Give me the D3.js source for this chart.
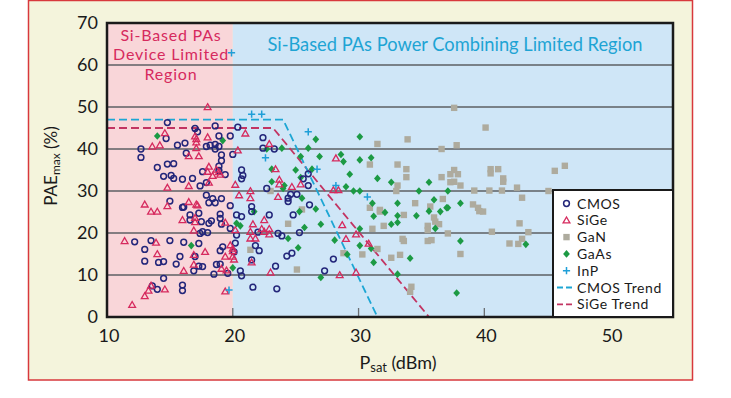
<!DOCTYPE html>
<html>
<head>
<meta charset="utf-8">
<script src="https://cdn.jsdelivr.net/npm/d3@7"></script>
<style>
  body { margin: 0; background: #fff; }
  svg { display: block; font-family: Lato, "Open Sans", sans-serif; }
</style>
</head>
<body>
<svg id="chart" width="731" height="398"></svg>
<script>
// Psat (dBm), PAEmax (%)
const cmos = [
  [14.8,46.3],[17.0,44.9],[17.2,44.1],[18.6,45.5],[20.4,45.2],[14.7,42.5],[18.9,43.1],[19.8,43.1],
  [12.7,40.0],[12.7,38.0],[15.6,40.9],[16.2,41.4],[17.9,40.6],[18.2,40.9],[18.6,41.1],[18.9,40.6],
  [18.6,40.0],[16.3,39.0],[19.1,38.6],[20.0,38.7],[19.1,37.2],[18.9,35.9],[18.9,34.9],[14.0,35.6],
  [14.8,36.4],[15.3,36.5],[17.6,34.6],[14.5,33.5],[15.1,33.7],[15.3,33.0],[16.0,32.8],[16.8,33.0],
  [17.9,32.0],[19.4,33.9],[17.4,31.2],[17.9,29.0],[18.4,28.2],[18.1,27.2],[18.6,27.2],[19.1,28.2],
  [15.0,27.6],[16.1,26.2],[19.8,26.5],[16.0,26.1],[16.6,24.3],[16.6,23.1],[17.3,24.7],[17.5,22.7],
  [17.4,19.9],[17.6,20.3],[18.0,20.1],[18.1,22.3],[18.3,22.9],[19.0,24.5],[19.0,23.5],[19.1,22.1],
  [19.8,21.1],[20.3,19.5],[20.3,24.3],[20.7,23.9],[21.5,26.3],[21.5,25.1],[22.0,20.2],[22.9,24.3],
  [23.6,19.9],[23.9,19.3],[24.4,27.5],[24.8,24.3],[25.3,20.1],[26.1,26.7],[24.3,14.5],[24.7,15.2],
  [23.4,12.1],[21.6,7.1],[23.5,6.7],[22.1,15.8],[21.8,17.0],[21.5,13.6],[20.2,17.6],[20.1,15.5],
  [19.2,16.7],[19.0,15.8],[18.7,12.5],[19.0,12.6],[18.5,10.2],[19.6,10.4],[20.6,11.0],[20.7,9.8],
  [16.9,11.0],[17.3,12.1],[17.6,12.0],[17.0,14.4],[17.3,17.5],[16.1,17.8],[15.8,14.4],[15.5,12.6],
  [15.0,18.2],[14.5,13.2],[14.1,13.0],[13.0,13.3],[13.5,18.2],[13.0,16.1],[12.2,17.9],[14.5,9.2],
  [13.6,7.4],[14.0,6.6],[16.0,7.6],[16.0,6.3],[22.4,42.7],[22.4,40.2],[23.3,40.0],[20.7,35.0],
  [20.8,33.7],[20.7,32.9],[22.7,30.6],[25.6,32.9],[26.0,34.1],[26.0,31.3],[24.4,28.3],[24.6,29.2],
  [25.1,29.2],[28.0,13.8],[27.3,11.0]
];
const sige = [
  [18.0,50.0],[14.6,43.8],[13.6,40.6],[14.2,40.9],[17.0,43.0],[17.1,42.4],[18.0,42.8],[17.1,41.6],
  [17.1,40.2],[16.5,38.3],[17.3,38.3],[20.4,39.7],[18.1,35.8],[18.0,34.6],[18.7,35.1],[18.4,33.6],
  [19.0,33.9],[18.9,34.5],[16.5,31.2],[18.1,32.0],[20.2,31.5],[14.8,30.8],[20.5,29.0],[13.0,26.8],
  [14.8,26.4],[16.5,27.4],[17.1,26.8],[17.2,26.6],[13.5,25.1],[14.0,25.1],[16.0,23.1],[17.0,23.6],
  [17.0,22.6],[16.9,20.6],[19.4,22.5],[11.4,18.1],[13.9,17.7],[14.0,15.0],[16.9,14.8],[17.8,15.5],
  [20.0,15.7],[19.4,14.4],[20.1,13.7],[16.9,12.5],[16.1,11.0],[19.1,11.5],[19.5,11.1],[13.5,7.5],
  [14.6,6.6],[13.3,6.3],[13.0,5.0],[12.0,2.9],[19.4,6.1],[21.0,43.7],[22.9,41.2],[23.4,35.2],
  [28.2,37.8],[21.4,30.0],[21.4,28.3],[23.7,32.7],[23.7,31.6],[23.6,28.6],[24.7,31.0],[25.4,31.6],
  [28.0,30.2],[28.4,30.2],[21.6,22.1],[22.5,23.1],[20.2,20.7],[21.4,20.3],[21.4,18.7],[21.8,18.7],
  [22.3,21.0],[22.5,20.3],[22.9,21.0],[22.9,19.7],[19.8,17.1],[20.0,16.3],[20.0,14.4],[21.5,13.0],
  [23.0,10.6],[28.7,21.9],[29.0,18.6],[29.8,19.7],[28.5,10.0],[29.8,10.6],[30.8,17.5]
];
const gan = [
  [23.0,30.0],[25.5,25.6],[24.4,22.2],[21.4,16.0],[25.1,11.3],[28.8,15.2],[30.3,14.9],
  [37.6,49.8],[40.1,45.1],[33.9,42.3],[31.5,41.2],[36.6,40.0],[37.8,40.9],[30.9,36.3],[33.1,36.3],
  [33.8,35.2],[33.8,33.3],[37.6,35.0],[37.3,34.0],[37.9,34.0],[36.6,33.3],[40.5,35.2],[40.5,34.2],
  [41.1,35.2],[37.3,32.1],[37.6,32.2],[38.1,31.3],[33.1,31.3],[33.0,30.0],[39.2,30.1],[40.4,30.1],
  [41.4,30.1],[34.5,27.1],[35.7,26.3],[36.7,28.1],[39.1,26.8],[39.5,26.0],[30.9,26.0],[31.7,25.5],
  [41.5,33.0],[41.5,32.2],[42.6,30.8],[43.0,28.4],[45.1,30.0],[45.6,34.8],[46.4,36.0],[42.8,22.3],
  [43.5,20.2],[40.6,20.3],[43.0,18.6],[42.0,17.5],[42.7,17.4],[31.7,25.1],[33.6,24.3],[31.1,21.0],
  [32.0,21.7],[35.5,21.7],[35.5,20.7],[36.0,23.7],[36.1,22.7],[36.4,22.1],[37.1,19.9],[33.5,18.6],
  [33.6,18.1],[35.5,18.1],[35.8,18.3],[31.5,16.2],[32.6,14.1],[33.3,14.8],[38.1,15.0],[34.2,7.2],
  [34.1,6.0],[39.6,25.2],[39.9,25.1]
];
const gaas = [
  [14.0,43.1],[19.2,42.0],[16.7,17.0],[20.3,22.3],[20.6,21.7],[21.7,25.1],[25.3,25.1],[26.6,25.7],
  [24.4,18.7],[25.7,21.3],[27.0,22.1],[25.2,16.5],[28.1,18.3],[29.1,14.9],[30.1,21.0],[30.1,17.0],
  [20.0,11.7],[27.0,9.4],[26.6,42.3],[30.1,42.9],[26.0,40.2],[26.9,38.2],[28.6,38.7],[28.8,37.0],
  [30.1,37.4],[25.4,38.2],[22.7,40.0],[23.9,40.2],[25.0,35.0],[29.3,34.0],[26.3,35.2],[25.4,33.2],
  [23.1,35.2],[23.1,32.2],[24.1,31.3],[24.0,30.6],[29.0,31.0],[29.6,30.0],[30.1,30.0],[25.5,28.3],
  [31.0,37.9],[31.5,33.0],[32.6,32.1],[35.6,32.1],[34.8,30.0],[37.1,30.0],[31.1,27.1],[33.1,27.1],
  [36.0,27.9],[37.1,26.0],[38.1,27.1],[31.2,24.0],[32.1,24.9],[32.6,22.1],[33.1,22.5],[33.1,24.1],
  [34.6,24.1],[35.6,25.2],[36.5,25.1],[37.0,26.0],[36.1,21.1],[31.0,16.3],[31.2,13.0],[34.1,14.0],
  [33.1,10.2],[38.1,18.1],[37.8,5.7],[43.3,17.3]
];
const inp = [
  [19.9,62.9],[21.5,48.3],[22.3,48.3],[26.0,44.1],[22.6,37.9],[26.7,35.2],[28.2,31.3],[30.7,28.6],[19.7,6.4]
];
const cmosTrend = [[10,47],[24,47],[31.5,0]];
const sigeTrend = [[10,45],[23.2,45],[35.6,0]];
const xTicks = [10, 20, 30, 40, 50];
const yTicks = [0, 10, 20, 30, 40, 50, 60, 70];
const legendItems = ["CMOS", "SiGe", "GaN", "GaAs", "InP", "CMOS Trend", "SiGe Trend"];

const svg = d3.select("#chart");
const x = d3.scaleLinear().domain([10, 55]).range([107, 673]);
const y = d3.scaleLinear().domain([0, 70]).range([317, 23]);

const colors = {
  cmos: "#23267a",
  sige: "#d62a5e",
  gan: "#aeab9e",
  gaas: "#1c9a44",
  inp: "#1f9fd8",
  cmosTrend: "#1da6d4",
  sigeTrend: "#c23462"
};

// outer panel
svg.append("rect")
  .attr("x", 28.5).attr("y", 0.5).attr("width", 664).attr("height", 379.5)
  .attr("fill", "#f4f4dc").attr("stroke", "#d8383c").attr("stroke-width", 1.5);

// region backgrounds
svg.append("rect")
  .attr("x", x(10)).attr("y", y(70)).attr("width", x(20) - x(10)).attr("height", y(0) - y(70))
  .attr("fill", "#f9d6d9");
svg.append("rect")
  .attr("x", x(20)).attr("y", y(70)).attr("width", x(55) - x(20)).attr("height", y(0) - y(70))
  .attr("fill", "#cfe6f7");

// grid lines
svg.append("g")
  .selectAll("line")
  .data(yTicks.filter(d => d > 0 && d < 70))
  .enter()
  .append("line")
  .attr("x1", x(10)).attr("x2", x(55))
  .attr("y1", d => y(d)).attr("y2", d => y(d))
  .attr("stroke", "#5c5f63").attr("stroke-width", 1.3);

// small ticks inside bottom
svg.append("g")
  .selectAll("line")
  .data(xTicks.filter(d => d > 10))
  .enter()
  .append("line")
  .attr("x1", d => x(d)).attr("x2", d => x(d))
  .attr("y1", y(0)).attr("y2", y(0) - 9)
  .attr("stroke", "#6b6e72").attr("stroke-width", 1.3);

// region labels
const redLines = ["Si-Based PAs", "Device Limited", "Region"];
svg.append("g")
  .selectAll("text")
  .data(redLines)
  .enter()
  .append("text")
  .attr("x", 171).attr("y", (d, i) => 35 + i * 19.5)
  .attr("dy", "0.35em")
  .attr("text-anchor", "middle")
  .attr("font-size", 16).attr("letter-spacing", 0.8)
  .attr("fill", colors.sige)
  .text(d => d);

svg.append("text")
  .attr("x", 455).attr("y", 45).attr("dy", "0.35em")
  .attr("text-anchor", "middle")
  .attr("font-size", 18.3)
  .attr("fill", "#1ea4d4")
  .text("Si-Based PAs Power Combining Limited Region");

// trend lines
const line = d3.line().x(d => x(d[0])).y(d => y(d[1]));
svg.append("path").datum(sigeTrend)
  .attr("d", line).attr("fill", "none")
  .attr("stroke", colors.sigeTrend).attr("stroke-width", 1.8).attr("stroke-dasharray", "8,4");
svg.append("path").datum(cmosTrend)
  .attr("d", line).attr("fill", "none")
  .attr("stroke", colors.cmosTrend).attr("stroke-width", 1.8).attr("stroke-dasharray", "8,4");

// markers
function drawMarker(g, type, cx, cy) {
  if (type === "CMOS") {
    g.append("circle").attr("cx", cx).attr("cy", cy).attr("r", 2.9)
      .attr("fill", "none").attr("stroke", colors.cmos).attr("stroke-width", 1.5);
  } else if (type === "SiGe") {
    g.append("path").attr("transform", `translate(${cx},${cy + 0.6})`)
      .attr("d", d3.symbol(d3.symbolTriangle, 20)())
      .attr("fill", "none").attr("stroke", colors.sige).attr("stroke-width", 1.3);
  } else if (type === "GaN") {
    g.append("rect").attr("x", cx - 3.2).attr("y", cy - 3.2).attr("width", 6.4).attr("height", 6.4)
      .attr("fill", colors.gan);
  } else if (type === "GaAs") {
    g.append("path")
      .attr("d", `M${cx},${cy - 3.8}L${cx + 3.4},${cy}L${cx},${cy + 3.8}L${cx - 3.4},${cy}Z`)
      .attr("fill", colors.gaas);
  } else if (type === "InP") {
    g.append("path")
      .attr("d", `M${cx - 3.6},${cy}H${cx + 3.6}M${cx},${cy - 3.6}V${cy + 3.6}`)
      .attr("stroke", colors.inp).attr("stroke-width", 1.5);
  }
}

const series = [["GaN", gan], ["GaAs", gaas], ["CMOS", cmos], ["SiGe", sige], ["InP", inp]];
series.forEach(([name, data]) => {
  const g = svg.append("g");
  data.forEach(d => drawMarker(g, name, x(d[0]), y(d[1])));
});

// frame
svg.append("rect")
  .attr("x", x(10)).attr("y", y(70)).attr("width", x(55) - x(10)).attr("height", y(0) - y(70))
  .attr("fill", "none").attr("stroke", "#1a1a1a").attr("stroke-width", 2.5);

// axes labels
svg.append("g")
  .selectAll("text")
  .data(yTicks)
  .enter()
  .append("text")
  .attr("x", 98).attr("y", d => y(d)).attr("dy", "0.36em")
  .attr("text-anchor", "end")
  .attr("font-size", 18).attr("fill", "#1a1a1a")
  .text(d => d);

svg.append("g")
  .selectAll("text")
  .data(xTicks)
  .enter()
  .append("text")
  .attr("x", d => x(d) + 2).attr("y", 336).attr("dy", "0.36em")
  .attr("text-anchor", "middle")
  .attr("font-size", 18).attr("fill", "#1a1a1a")
  .text(d => d);

const yLabel = svg.append("text")
  .attr("transform", "translate(57,166) rotate(-90)")
  .attr("text-anchor", "middle")
  .attr("font-size", 17).attr("fill", "#1a1a1a");
yLabel.append("tspan").text("PAE");
yLabel.append("tspan").attr("font-size", 12).attr("dy", 3).text("max");
yLabel.append("tspan").attr("dy", -3).text(" (%)");

const xLabel = svg.append("text")
  .attr("x", 398).attr("y", 369)
  .attr("text-anchor", "middle")
  .attr("font-size", 18).attr("fill", "#1a1a1a");
xLabel.append("tspan").text("P");
xLabel.append("tspan").attr("font-size", 13).attr("dy", 3).text("sat");
xLabel.append("tspan").attr("dy", -3).text(" (dBm)");

// legend
const legend = svg.append("g");
legend.append("rect")
  .attr("x", 553).attr("y", 190).attr("width", 120).attr("height", 127)
  .attr("fill", "#fff").attr("stroke", "#1a1a1a").attr("stroke-width", 2);
legendItems.forEach((name, i) => {
  const ly = 203.5 + i * 16.8;
  if (name === "CMOS Trend" || name === "SiGe Trend") {
    legend.append("line")
      .attr("x1", 557).attr("x2", 574).attr("y1", ly).attr("y2", ly)
      .attr("stroke", name === "CMOS Trend" ? colors.cmosTrend : colors.sigeTrend)
      .attr("stroke-width", 1.8).attr("stroke-dasharray", "6,3");
  } else {
    drawMarker(legend, name, 566.5, ly);
  }
  legend.append("text")
    .attr("x", 577).attr("y", ly).attr("dy", "0.36em")
    .attr("font-size", 14).attr("letter-spacing", 0.6).attr("fill", "#1a1a1a")
    .text(name);
});
</script>
</body>
</html>
